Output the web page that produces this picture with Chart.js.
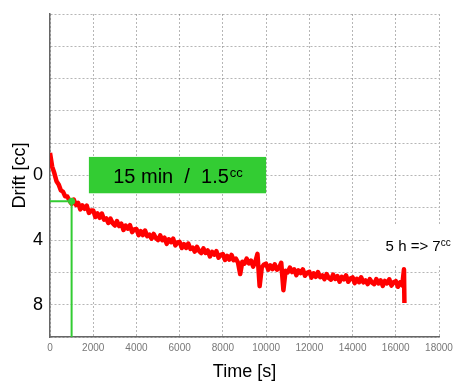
<!DOCTYPE html>
<html>
<head>
<meta charset="utf-8">
<script src="https://cdn.jsdelivr.net/npm/chart.js@4.4.0/dist/chart.umd.min.js"></script>
<style>
    body { margin: 0; background: #ffffff; }
    #driftChart { display: block; }
</style>
</head>
<body>
<canvas id="driftChart" width="453" height="383"></canvas>
<script>

const timeS = [
    0, 100, 200, 300, 400, 500, 600, 700, 800, 900,
    1000, 1100, 1200, 1300, 1400, 1500, 1600, 1700, 1800, 1900,
    2000, 2100, 2200, 2300, 2400, 2500, 2600, 2700, 2800, 2900,
    3000, 3100, 3200, 3300, 3400, 3500, 3600, 3700, 3800, 3900,
    4000, 4100, 4200, 4300, 4400, 4500, 4600, 4700, 4800, 4900,
    5000, 5100, 5200, 5300, 5400, 5500, 5600, 5700, 5800, 5900,
    6000, 6100, 6200, 6300, 6400, 6500, 6600, 6700, 6800, 6900,
    7000, 7100, 7200, 7300, 7400, 7500, 7600, 7700, 7800, 7900,
    8000, 8100, 8200, 8300, 8400, 8500, 8600, 8700, 8800, 8900,
    9000, 9100, 9200, 9300, 9400, 9500, 9600, 9700, 9800, 9900,
    10000, 10100, 10200, 10300, 10400, 10500, 10600, 10700, 10800, 10900,
    11000, 11100, 11200, 11300, 11400, 11500, 11600, 11700, 11800, 11900,
    12000, 12100, 12200, 12300, 12400, 12500, 12600, 12700, 12800, 12900,
    13000, 13100, 13200, 13300, 13400, 13500, 13600, 13700, 13800, 13900,
    14000, 14100, 14200, 14300, 14400, 14500, 14600, 14700, 14800, 14900,
    15000, 15100, 15200, 15300, 15400, 15500, 15600, 15700, 15800, 15900,
    16000, 16100, 16200, 16300, 16380, 16400
];

const driftCc = [
    -1.4, -0.55, -0.15, 0.35, 0.55, 0.92, 1.0, 1.28, 1.3, 1.55,
    1.75, 1.49, 1.82, 1.69, 2.1, 1.85, 2.06, 1.87, 2.32, 2.17,
    2.16, 2.57, 2.35, 2.62, 2.36, 2.73, 2.66, 2.94, 2.67, 2.96,
    3.1, 2.82, 3.13, 2.98, 3.37, 3.1, 3.29, 3.08, 3.51, 3.34,
    3.31, 3.69, 3.45, 3.69, 3.41, 3.75, 3.66, 3.91, 3.62, 3.88,
    4.0, 3.71, 4.01, 3.85, 4.23, 3.95, 4.13, 3.91, 4.33, 4.15,
    4.11, 4.49, 4.25, 4.49, 4.21, 4.55, 4.46, 4.71, 4.42, 4.68,
    4.8, 4.51, 4.8, 4.64, 5.01, 4.73, 4.9, 4.68, 5.09, 4.91,
    4.86, 5.23, 4.98, 5.21, 4.92, 5.25, 5.15, 5.39, 6.1, 5.34,
    5.45, 5.15, 5.44, 5.27, 5.64, 5.35, 4.85, 6.85, 5.7, 5.51,
    5.46, 5.83, 5.57, 5.8, 5.5, 5.83, 5.72, 5.4, 7.1, 5.9,
    6.0, 5.7, 5.98, 5.81, 6.17, 5.88, 6.04, 5.81, 6.21, 6.02,
    5.96, 6.32, 6.06, 6.28, 5.98, 6.3, 6.19, 6.42, 6.11, 6.35,
    6.45, 6.14, 6.41, 6.23, 6.58, 6.28, 6.43, 6.19, 6.58, 6.38,
    6.31, 6.66, 6.4, 6.61, 6.3, 6.62, 6.5, 6.72, 6.41, 6.64,
    6.73, 6.41, 6.68, 6.49, 6.84, 6.53, 6.68, 6.43, 6.82, 6.61,
    6.54, 6.89, 6.62, 6.8, 5.8, 7.9
];

// green guide: 15 min -> 1.5 cc
const guideTime = [0, 1000, 1000];
const guideDrift = [1.6, 1.6, 10];

const xTicks = [0, 2000, 4000, 6000, 8000, 10000, 12000, 14000, 16000, 18000];
const yLabelled = [0, 4, 8];

const FONT = '"Liberation Sans", Arial, sans-serif';
const GREEN = '#33cc33';

Chart.defaults.font.family = FONT;
Chart.defaults.color = '#000';

// green box + "5 h" note, placed in data units
const notesPlugin = {
    id: 'notes',
    beforeDatasetsDraw(chart) {
        const { ctx, scales: { x, y } } = chart;
        // white label background hiding the grid
        ctx.save();
        ctx.fillStyle = '#ffffff';
        const wx = x.getPixelForValue(14800);
        const wy = y.getPixelForValue(3.1);
        ctx.fillRect(wx, wy, chart.width - wx, y.getPixelForValue(5.6) - wy);
        ctx.restore();
    },
    afterDatasetsDraw(chart) {
        const { ctx, scales: { x, y } } = chart;
        ctx.save();

        // green box
        const bx1 = x.getPixelForValue(1800);
        const bx2 = x.getPixelForValue(10000);
        const by1 = y.getPixelForValue(-1.15);
        const by2 = y.getPixelForValue(1.1);
        ctx.fillStyle = GREEN;
        ctx.fillRect(bx1, by1, bx2 - bx1, by2 - by1);

        ctx.fillStyle = '#000';
        ctx.textBaseline = 'alphabetic';
        ctx.textAlign = 'left';
        ctx.font = '20px ' + FONT;
        const main = '15 min  /  1.5';
        const mainW = ctx.measureText(main).width;
        ctx.font = '13px ' + FONT;
        const supW = ctx.measureText('cc').width;
        const tx = (bx1 + bx2) / 2 - (mainW + supW) / 2;
        const ty = (by1 + by2) / 2 + 7.5;
        ctx.font = '20px ' + FONT;
        ctx.fillText(main, tx, ty);
        ctx.font = '13px ' + FONT;
        ctx.fillText('cc', tx + mainW + 1, ty - 6);

        // 5 h note
        const nx = x.getPixelForValue(15530);
        const ny = y.getPixelForValue(4.7);
        ctx.font = '15px ' + FONT;
        const noteW = ctx.measureText('5 h => 7').width;
        ctx.fillText('5 h => 7', nx, ny);
        ctx.font = '10px ' + FONT;
        ctx.fillText('cc', nx + noteW, ny - 5);

        ctx.restore();
    }
};

const ctx = document.getElementById('driftChart');

new Chart(ctx, {
    type: 'line',
    data: {
        datasets: [
            {
                label: 'guide',
                data: guideTime.map((t, i) => ({ x: t, y: guideDrift[i] })),
                borderColor: GREEN,
                backgroundColor: GREEN,
                borderWidth: 2,
                pointRadius: [0, 3.5, 0],
                pointBorderWidth: 0,
                order: 0
            },
            {
                label: 'Drift',
                data: timeS.map((t, i) => ({ x: t, y: driftCc[i] })),
                borderColor: '#ff0000',
                borderWidth: 4.5,
                borderJoinStyle: 'round',
                pointRadius: 0,
                tension: 0,
                order: 1
            }
        ]
    },
    options: {
        responsive: false,
        animation: false,
        layout: {
            padding: { top: 14, right: 14, left: 0, bottom: 0 }
        },
        plugins: {
            legend: { display: false },
            tooltip: { enabled: false }
        },
        scales: {
            x: {
                type: 'linear',
                min: 0,
                max: 18000,
                afterBuildTicks: (scale) => {
                    scale.ticks = xTicks.map(v => ({ value: v }));
                },
                afterFit: (scale) => {
                    scale.height = 46;
                    scale.paddingLeft = 0;
                    scale.paddingRight = 0;
                },
                ticks: {
                    autoSkip: false,
                    maxRotation: 0,
                    padding: 5,
                    color: '#777',
                    font: { size: 10 },
                    callback: (v) => String(v)
                },
                grid: {
                    color: 'rgba(110, 110, 110, 0.5)',
                    lineWidth: 1,
                    drawTicks: false
                },
                border: {
                    color: '#666',
                    width: 1.5,
                    dash: [2, 2]
                },
                title: {
                    display: true,
                    text: 'Time [s]',
                    font: { size: 18 },
                    padding: { top: 0, bottom: 0 }
                }
            },
            y: {
                type: 'linear',
                min: -10,
                max: 10,
                reverse: true,
                afterFit: (scale) => {
                    scale.width = 50;
                    scale.paddingTop = 0;
                    scale.paddingBottom = 0;
                },
                ticks: {
                    stepSize: 2,
                    padding: 7,
                    color: '#000',
                    font: { size: 18 },
                    callback: (v) => yLabelled.includes(v) ? String(v) : ''
                },
                grid: {
                    color: 'rgba(110, 110, 110, 0.5)',
                    lineWidth: 1,
                    drawTicks: false
                },
                border: {
                    color: '#666',
                    width: 1.5,
                    dash: [2, 2]
                },
                title: {
                    display: true,
                    text: 'Drift [cc]',
                    font: { size: 18 },
                    padding: { top: 9, bottom: 0 }
                }
            }
        }
    },
    plugins: [notesPlugin]
});
</script>
</body>
</html>
